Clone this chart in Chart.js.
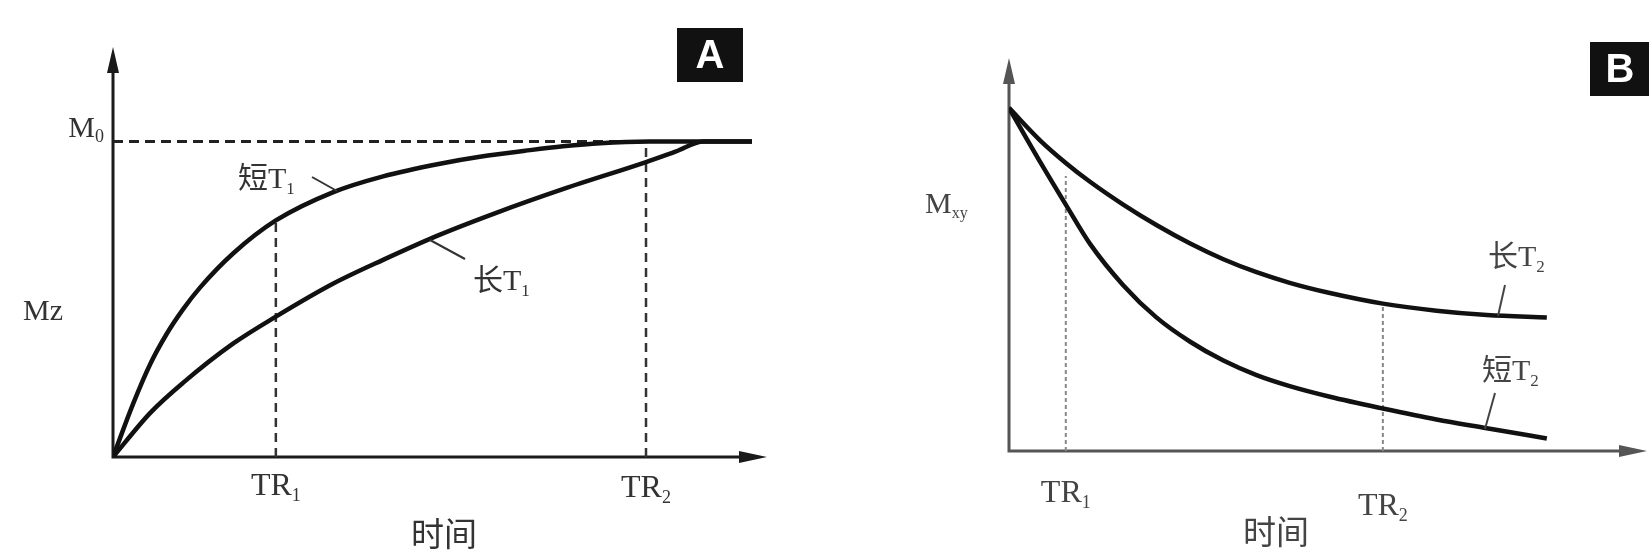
<!DOCTYPE html>
<html>
<head>
<meta charset="utf-8">
<script src="https://cdn.jsdelivr.net/npm/chart.js@4.4.0/dist/chart.umd.min.js"></script>
<style>
  html, body { margin: 0; padding: 0; background: #fff; width: 1649px; height: 551px; overflow: hidden; }
  canvas { position: absolute; top: 0; }
  #panelA { left: 0; }
  #panelB { left: 820px; }
</style>
</head>
<body>
<canvas id="panelA" width="820" height="551"></canvas>
<canvas id="panelB" width="829" height="551"></canvas>
<script>
/*
  Two panels: T1 recovery (A) and T2 decay (B).
  Time is in arbitrary units (0..10), magnetisation relative to M0.
*/
// panel A - longitudinal magnetisation Mz
const timeShortT1 = [0, 0.31, 0.57, 0.82, 1.07, 1.33, 1.84, 2.49, 3.37, 4.13, 5.0, 5.61, 6.38, 6.88, 7.45, 8.2, 9.77];
const mzShortT1   = [0, 0.17, 0.295, 0.39, 0.468, 0.537, 0.646, 0.75, 0.84, 0.89, 0.93, 0.952, 0.973, 0.985, 0.995, 1.0, 1.0];
const timeLongT1  = [0, 0.57, 1.07, 1.84, 2.49, 3.37, 4.13, 5.0, 5.87, 6.89, 8.15, 8.6, 9.03, 9.77];
const mzLongT1    = [0, 0.14, 0.235, 0.36, 0.445, 0.55, 0.625, 0.705, 0.775, 0.85, 0.935, 0.968, 1.0, 1.0];
const m0Line      = [1, 1];           // dashed M0 level
const m0LineTime  = [0, 9.0];
const trA         = [2.49, 8.15];     // TR1, TR2
const trATop      = [0.75, 1.0];      // where the dashed TR lines stop

// panel B - transverse magnetisation Mxy
const timeB       = [0, 0.49, 0.89, 1.27, 1.79, 2.31, 2.84, 3.36, 3.88, 4.40, 5.03, 5.86, 6.70, 7.49, 8.43];
const mxyLongT2   = [0.873, 0.79, 0.733, 0.685, 0.627, 0.575, 0.528, 0.488, 0.455, 0.428, 0.402, 0.375, 0.357, 0.346, 0.340];
const mxyShortT2  = [0.873, 0.735, 0.627, 0.527, 0.422, 0.340, 0.278, 0.230, 0.193, 0.165, 0.138, 0.108, 0.080, 0.058, 0.032];
const trB         = [0.89, 5.86];
const trBTop      = [0.70, 0.375];

const trLabels    = ['TR', 'TR'];
const trSubs      = ['1', '2'];

const SERIF = '"Liberation Serif", "DejaVu Serif", serif';
const CJK = '"Noto Sans CJK SC", "Noto Sans CJK JP", sans-serif';

function pts(xs, ys) {
  return xs.map(function(x, i) { return { x: x, y: ys[i] }; });
}

function curve(xs, ys, color) {
  return {
    data: pts(xs, ys),
    borderColor: color,
    borderWidth: 4.5,
    pointRadius: 0,
    fill: false,
    cubicInterpolationMode: 'monotone',
    order: 0
  };
}

function guide(xs, ys, color, width, dash) {
  return {
    data: pts(xs, ys),
    borderColor: color,
    borderWidth: width,
    borderDash: dash,
    pointRadius: 0,
    fill: false,
    tension: 0,
    order: 1
  };
}

// draw a run of text pieces (main text + subscripts) one after another
function rich(ctx, parts, x, y, align, color) {
  ctx.save();
  ctx.fillStyle = color;
  ctx.textBaseline = 'alphabetic';
  ctx.textAlign = 'left';
  let w = 0;
  parts.forEach(function(p) { ctx.font = p.f; w += ctx.measureText(p.t).width; });
  let cx = align === 'center' ? x - w / 2 : (align === 'right' ? x - w : x);
  parts.forEach(function(p) {
    ctx.font = p.f;
    ctx.fillText(p.t, cx, y + (p.dy || 0));
    cx += ctx.measureText(p.t).width;
  });
  ctx.restore();
}

const decor = {
  id: 'decor',
  beforeDatasetsDraw(chart, args, o) {
    const ctx = chart.ctx, a = chart.chartArea;
    const x0 = chart.scales.x.getPixelForValue(0);
    const y0 = chart.scales.y.getPixelForValue(0);
    ctx.save();
    ctx.strokeStyle = o.axisColor;
    ctx.fillStyle = o.axisColor;
    ctx.lineWidth = o.axisWidth;
    ctx.beginPath();
    ctx.moveTo(x0, y0 + o.axisWidth / 2);
    ctx.lineTo(x0, a.top + 18);
    ctx.moveTo(x0 - o.axisWidth / 2, y0);
    ctx.lineTo(a.right - 18, y0);
    ctx.stroke();
    // arrow heads
    ctx.beginPath();
    ctx.moveTo(x0, a.top);
    ctx.lineTo(x0 - 6, a.top + 26);
    ctx.lineTo(x0 + 6, a.top + 26);
    ctx.closePath();
    ctx.moveTo(a.right, y0);
    ctx.lineTo(a.right - 28, y0 - 6);
    ctx.lineTo(a.right - 28, y0 + 6);
    ctx.closePath();
    ctx.fill();
    ctx.restore();
  },
  afterDatasetsDraw(chart, args, o) {
    const ctx = chart.ctx;
    const xs = chart.scales.x;
    // TR tick labels under the time axis
    o.ticks.forEach(function(t, i) {
      rich(ctx, [
        { t: trLabels[i], f: '32px ' + SERIF },
        { t: trSubs[i], f: '18px ' + SERIF, dy: 6 }
      ], xs.getPixelForValue(t.value), t.y, 'center', o.textColor);
    });
    o.labels.forEach(function(l) { rich(ctx, l.parts, l.x, l.y, l.align || 'left', o.textColor); });
    ctx.save();
    ctx.strokeStyle = o.textColor;
    ctx.lineWidth = 2;
    o.pointers.forEach(function(p) {
      ctx.beginPath();
      ctx.moveTo(p[0], p[1]);
      ctx.lineTo(p[2], p[3]);
      ctx.stroke();
    });
    // panel letter box
    const b = o.box;
    ctx.fillStyle = '#111';
    ctx.fillRect(b.x, b.y, b.w, b.h);
    ctx.fillStyle = '#fff';
    ctx.font = 'bold 40px "Liberation Sans", Arial, sans-serif';
    ctx.textAlign = 'center';
    ctx.textBaseline = 'middle';
    ctx.fillText(b.text, b.x + b.w / 2, b.y + b.h / 2 + 2);
    ctx.restore();
  }
};

function serifPart(t, size, dy) { return { t: t, f: size + 'px ' + SERIF, dy: dy }; }
function cjkPart(t, size) { return { t: t, f: size + 'px ' + CJK }; }

function baseOptions(pad, yMax, deco) {
  return {
    responsive: false,
    animation: false,
    devicePixelRatio: 1,
    layout: { padding: pad },
    scales: {
      x: { type: 'linear', min: 0, max: 10, display: false },
      y: { type: 'linear', min: 0, max: yMax, display: false }
    },
    plugins: { legend: { display: false }, tooltip: { enabled: false }, decor: deco }
  };
}

window.onload = function() {
  var ctxA = document.getElementById('panelA').getContext('2d');
  new Chart(ctxA, {
    type: 'line',
    data: {
      datasets: [
        curve(timeShortT1, mzShortT1, '#111'),
        curve(timeLongT1, mzLongT1, '#111'),
        guide(m0LineTime, m0Line, '#222', 3, [10, 6]),
        guide([trA[0], trA[0]], [0, trATop[0]], '#333', 2.5, [9, 6]),
        guide([trA[1], trA[1]], [0, trATop[1]], '#333', 2.5, [9, 6])
      ]
    },
    options: baseOptions({ left: 113, right: 53, top: 47, bottom: 94 }, 1.3, {
      axisColor: '#1a1a1a',
      axisWidth: 3,
      textColor: '#333',
      ticks: [{ value: trA[0], y: 495 }, { value: trA[1], y: 497 }],
      labels: [
        { parts: [serifPart('M', 30), serifPart('0', 18, 5)], x: 104, y: 137, align: 'right' },
        { parts: [serifPart('Mz', 30)], x: 43, y: 320, align: 'center' },
        { parts: [cjkPart('短', 30), serifPart('T', 30), serifPart('1', 17, 6)], x: 238, y: 188 },
        { parts: [cjkPart('长', 30), serifPart('T', 30), serifPart('1', 17, 6)], x: 473, y: 290 },
        { parts: [cjkPart('时间', 33)], x: 444, y: 546, align: 'center' }
      ],
      pointers: [[312, 177, 337, 191], [430, 240, 465, 259]],
      box: { x: 677, y: 28, w: 66, h: 54, text: 'A' }
    }),
    plugins: [decor]
  });

  var ctxB = document.getElementById('panelB').getContext('2d');
  new Chart(ctxB, {
    type: 'line',
    data: {
      datasets: [
        curve(timeB, mxyLongT2, '#111'),
        curve(timeB, mxyShortT2, '#111'),
        guide([trB[0], trB[0]], [0, trBTop[0]], '#888', 2, [4, 3]),
        guide([trB[1], trB[1]], [0, trBTop[1]], '#888', 2, [4, 3])
      ]
    },
    options: baseOptions({ left: 189, right: 2, top: 58, bottom: 100 }, 1, {
      axisColor: '#555',
      axisWidth: 3,
      textColor: '#444',
      ticks: [{ value: trB[0], y: 502 }, { value: trB[1], y: 515 }],
      labels: [
        { parts: [serifPart('M', 30), serifPart('xy', 16, 5)], x: 105, y: 213 },
        { parts: [cjkPart('长', 30), serifPart('T', 30), serifPart('2', 17, 6)], x: 668, y: 266 },
        { parts: [cjkPart('短', 30), serifPart('T', 30), serifPart('2', 17, 6)], x: 662, y: 380 },
        { parts: [cjkPart('时间', 33)], x: 456, y: 544, align: 'center' }
      ],
      pointers: [[685, 285, 678, 316], [675, 393, 665, 429]],
      box: { x: 770, y: 42, w: 60, h: 54, text: 'B' }
    }),
    plugins: [decor]
  });
};
</script>
</body>
</html>
